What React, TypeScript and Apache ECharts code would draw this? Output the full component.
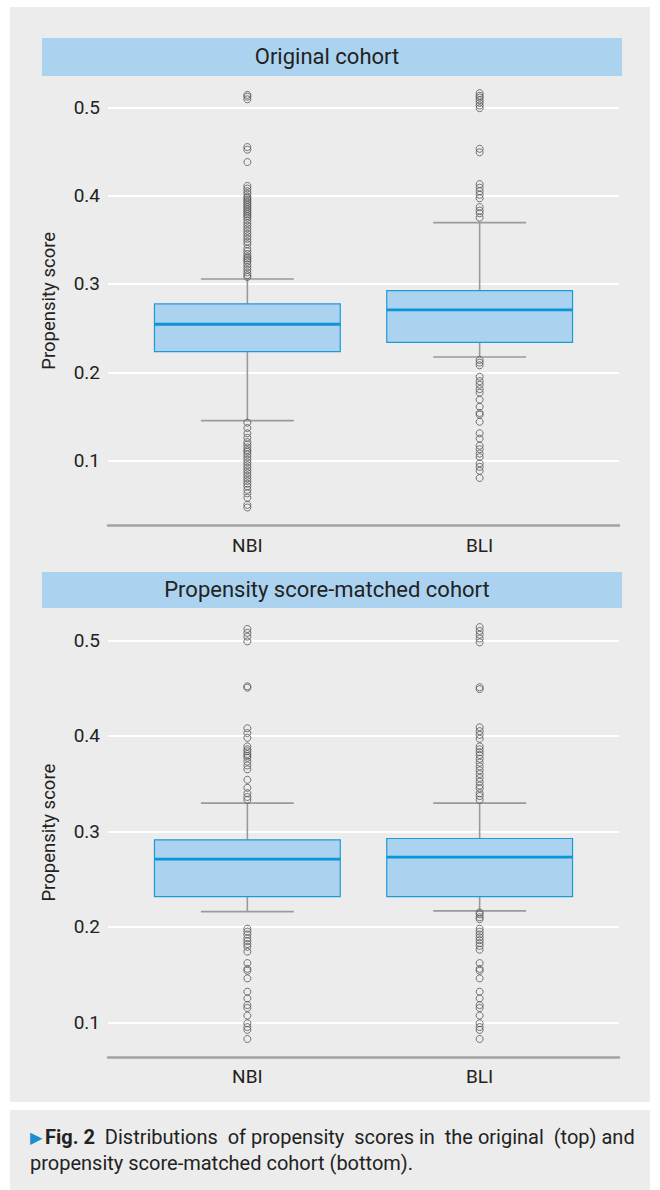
import React, { useEffect, useRef } from "react";
import * as echarts from "echarts";

const groups = ["NBI", "BLI"];
const groupPos = [1, 2];
const yTicks = [0.1, 0.2, 0.3, 0.4, 0.5];

// [lower whisker, Q1, median, Q3, upper whisker]
const origStats = [
  [0.1453, 0.2234, 0.2544, 0.2774, 0.3057],
  [0.2174, 0.234, 0.2706, 0.2924, 0.3694],
];
const matchedStats = [
  [0.2159, 0.2317, 0.2709, 0.2911, 0.3296],
  [0.2167, 0.2317, 0.273, 0.2925, 0.3296],
];

const origNBIOutliers = [
  0.514, 0.512, 0.509, 0.455, 0.452, 0.438,
  0.411, 0.408, 0.405, 0.402, 0.399, 0.397, 0.395, 0.393, 0.391, 0.389, 0.387, 0.385,
  0.383, 0.381, 0.379, 0.377, 0.375, 0.372, 0.369, 0.366, 0.363, 0.36, 0.357, 0.354,
  0.351, 0.348, 0.345, 0.34, 0.337, 0.334, 0.331, 0.329, 0.327, 0.325, 0.322, 0.319,
  0.316, 0.313, 0.31, 0.308,
  0.143, 0.137, 0.131, 0.126, 0.121, 0.118, 0.115, 0.112, 0.11, 0.107, 0.104, 0.101,
  0.098, 0.095, 0.092, 0.089, 0.086, 0.083, 0.08, 0.077, 0.074, 0.071, 0.067, 0.063,
  0.058, 0.05, 0.047,
];
const origBLIOutliers = [
  0.516, 0.513, 0.511, 0.508, 0.505, 0.502, 0.499, 0.453, 0.449,
  0.413, 0.409, 0.405, 0.401, 0.397, 0.387, 0.383, 0.38, 0.375,
  0.214, 0.211, 0.208, 0.195, 0.19, 0.186, 0.181, 0.177, 0.169, 0.161, 0.154, 0.152,
  0.144, 0.131, 0.125, 0.117, 0.113, 0.108, 0.104, 0.097, 0.093, 0.0885, 0.0804,
];
const matchedNBIOutliers = [
  0.512, 0.508, 0.504, 0.499, 0.452, 0.4505, 0.408, 0.403, 0.398,
  0.389, 0.386, 0.384, 0.381, 0.379, 0.377, 0.373, 0.369, 0.365, 0.354, 0.3456,
  0.34, 0.336, 0.333,
  0.198, 0.195, 0.192, 0.188, 0.185, 0.182, 0.179, 0.174, 0.162, 0.156, 0.154, 0.146,
  0.132, 0.125, 0.118, 0.115, 0.107, 0.099, 0.095, 0.092, 0.0825,
];
const matchedBLIOutliers = [
  0.514, 0.51, 0.506, 0.502, 0.498, 0.451, 0.449, 0.409, 0.405, 0.401, 0.397,
  0.389, 0.386, 0.383, 0.38, 0.376, 0.372, 0.368, 0.364, 0.36, 0.356, 0.352, 0.348,
  0.345, 0.34, 0.337, 0.333,
  0.215, 0.213, 0.21, 0.208, 0.198, 0.195, 0.192, 0.189, 0.186, 0.183, 0.18, 0.176,
  0.162, 0.156, 0.154, 0.146, 0.132, 0.125, 0.118, 0.115, 0.107, 0.099, 0.095, 0.092,
  0.0825,
];

const FONT = "Roboto, 'Noto Sans', sans-serif";
const TEXT = "#222222";

function boxData(stats: number[][]) {
  return stats.map((s, i) => [groupPos[i], ...s]);
}
function outlierData(list: number[], gi: number) {
  return list.map((v) => [groupPos[gi], v]);
}

const renderBox = (params: any, api: any) => {
  const x = api.value(0);
  const lo = api.coord([x, api.value(1)]);
  const q1 = api.coord([x, api.value(2)]);
  const med = api.coord([x, api.value(3)]);
  const q3 = api.coord([x, api.value(4)]);
  const hi = api.coord([x, api.value(5)]);
  const boxW = api.size([0.8, 0])[0];
  const capW = api.size([0.4, 0])[0];
  const cx = lo[0];
  const wStyle = { stroke: "#9a9a9a", lineWidth: 1.6 };
  return {
    type: "group",
    children: [
      { type: "line", shape: { x1: cx, y1: hi[1], x2: cx, y2: q3[1] }, style: wStyle },
      { type: "line", shape: { x1: cx, y1: q1[1], x2: cx, y2: lo[1] }, style: wStyle },
      { type: "line", shape: { x1: cx - capW / 2, y1: hi[1], x2: cx + capW / 2, y2: hi[1] }, style: wStyle },
      { type: "line", shape: { x1: cx - capW / 2, y1: lo[1], x2: cx + capW / 2, y2: lo[1] }, style: wStyle },
      {
        type: "rect",
        shape: { x: cx - boxW / 2, y: q3[1], width: boxW, height: q1[1] - q3[1] },
        style: { fill: "#abd2ef", stroke: "#1e9bd7", lineWidth: 1.2 },
      },
      {
        type: "line",
        shape: { x1: cx - boxW / 2, y1: med[1], x2: cx + boxW / 2, y2: med[1] },
        style: { stroke: "#0995d7", lineWidth: 2.8 },
      },
    ],
  };
};

export default function App() {
  const ref = useRef<HTMLDivElement>(null);
  useEffect(() => {
    if (!ref.current) return;
    const chart = echarts.init(ref.current, null, { renderer: "svg" });
    const grids = [
      { left: 108, width: 511, top: 76, height: 449.7 },
      { left: 108, width: 511, top: 608, height: 449.3 },
    ];
    const yRanges = [
      [0.0264, 0.5354],
      [0.0633, 0.534],
    ];
    const xAxes = grids.map((_, i) => ({
      type: "value",
      gridIndex: i,
      min: 0.4,
      max: 2.6,
      axisLine: { show: true, lineStyle: { color: "#a3a3a3", width: 2.5 } },
      axisTick: { show: false },
      splitLine: { show: false },
      axisLabel: {
        customValues: groupPos,
        formatter: (v: number) => groups[Math.round(v) - 1] ?? "",
        color: TEXT,
        fontFamily: FONT,
        fontSize: 19,
        margin: 10,
      },
    }));
    const yAxes = grids.map((_, i) => ({
      type: "value",
      gridIndex: i,
      min: yRanges[i][0],
      max: yRanges[i][1],
      name: "Propensity score",
      nameLocation: "middle",
      nameGap: 50,
      nameTextStyle: { color: TEXT, fontFamily: FONT, fontSize: 18.5 },
      axisLine: { show: false },
      axisTick: { show: false },
      axisLabel: {
        customValues: yTicks,
        formatter: (v: number) => v.toFixed(1),
        color: TEXT,
        fontFamily: FONT,
        fontSize: 19,
        margin: 8,
      },
      splitLine: {
        show: true,
        showMinLine: false,
        showMaxLine: false,
        lineStyle: { color: "#ffffff", width: 2 },
      },
    }));
    const allStats = [origStats, matchedStats];
    const allOutliers = [
      [origNBIOutliers, origBLIOutliers],
      [matchedNBIOutliers, matchedBLIOutliers],
    ];
    const series: any[] = [];
    for (let i = 0; i < 2; i++) {
      series.push({
        type: "custom",
        xAxisIndex: i,
        yAxisIndex: i,
        renderItem: renderBox,
        encode: { x: 0, y: [1, 2, 3, 4, 5] },
        data: boxData(allStats[i]),
        z: 2,
      });
      series.push({
        type: "scatter",
        xAxisIndex: i,
        yAxisIndex: i,
        symbol: "circle",
        symbolSize: 7,
        itemStyle: { color: "rgba(0,0,0,0)", borderColor: "#555555", borderWidth: 1 },
        data: [...outlierData(allOutliers[i][0], 0), ...outlierData(allOutliers[i][1], 1)],
        z: 3,
      });
    }
    chart.setOption({
      animation: false,
      backgroundColor: "#ffffff",
      grid: grids,
      xAxis: xAxes,
      yAxis: yAxes,
      series,
      graphic: [
        { type: "rect", z: -10, shape: { x: 10, y: 7, width: 640, height: 1095 }, style: { fill: "#ebeceb" } },
        { type: "rect", z: -10, shape: { x: 10, y: 1110, width: 640, height: 80 }, style: { fill: "#ebeceb" } },
        { type: "rect", z: 5, shape: { x: 42, y: 38, width: 580, height: 38 }, style: { fill: "#abd3f0" } },
        {
          type: "text", z: 6, x: 327, y: 56,
          style: { text: "Original cohort", fill: TEXT, font: `22px ${FONT}`, align: "center", verticalAlign: "middle" },
        },
        { type: "rect", z: 5, shape: { x: 42, y: 572, width: 580, height: 36 }, style: { fill: "#abd3f0" } },
        {
          type: "text", z: 6, x: 327, y: 589,
          style: { text: "Propensity score-matched cohort", fill: TEXT, font: `22px ${FONT}`, align: "center", verticalAlign: "middle" },
        },
        {
          type: "text", z: 6, x: 30, y: 1124,
          style: {
            text: "{tri|▶}{b|Fig. 2}  Distributions  of propensity  scores in  the original  (top) and\npropensity score-matched cohort (bottom).",
            fill: TEXT,
            font: `20px ${FONT}`,
            lineHeight: 26,
            rich: {
              tri: { fill: "#1a8fd0", font: `16px ${FONT}`, lineHeight: 26, padding: [0, 3, 0, 0] },
              b: { fill: TEXT, font: `bold 20px ${FONT}`, lineHeight: 26 },
            },
          },
        },
      ],
    });
    return () => chart.dispose();
  }, []);
  return (
    <div
      ref={ref}
      style={{ position: "absolute", left: 0, top: 0, width: 660, height: 1190 }}
    />
  );
}
